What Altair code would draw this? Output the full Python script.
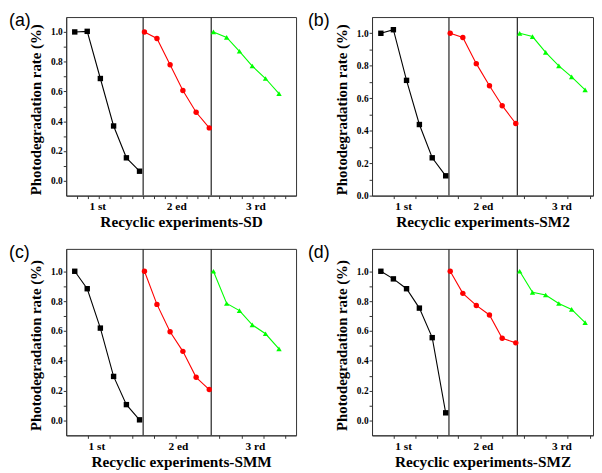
import altair as alt
import pandas as pd

SERIF = "Liberation Serif"
SANS = "Liberation Sans"

SEGMENTS = ["1st", "2ed", "3rd"]
SEG_COLORS = ["#000000", "#ff0000", "#00ff00"]
SEG_SHAPES = ["square", "circle", "triangle-up"]
LABELS = ["1 st", "2 ed", "3 rd"]

# x positions of the points (axis units, frame = 0..21)
X_LEFT = [[0.78, 1.92, 3.12, 4.33, 5.50, 6.70],
          [7.15, 8.29, 9.49, 10.66, 11.87, 13.07],
          [13.45, 14.66, 15.83, 17.00, 18.21, 19.44]]
X_RIGHT = [[0.84, 2.03, 3.28, 4.50, 5.72, 7.00],
           [7.43, 8.63, 9.91, 11.16, 12.37, 13.66],
           [14.03, 15.25, 16.50, 17.75, 18.97, 20.25]]
SEP_LEFT = [7.03, 13.25]
SEP_RIGHT = [7.31, 13.81]
LABEL_X_A = [2.88, 10.10, 17.33]
LABEL_X_C = [2.80, 10.25, 17.29]
LABEL_X_RIGHT = [3.00, 10.59, 18.05]
TICKS_A = list(range(1, 21))
TICKS_C = list(range(2, 21, 2))
TICKS_RIGHT = [2.03, 4.10, 6.16, 8.20, 10.28, 12.35, 14.44, 16.53, 18.60, 20.70]
Y_TICKS = [round(i * 0.1, 1) for i in range(0, 11)]

# photodegradation rate per cycle
SD = [[1.0, 1.004, 0.687, 0.368, 0.154, 0.064],
      [1.0, 0.956, 0.780, 0.606, 0.460, 0.355],
      [1.0, 0.963, 0.870, 0.771, 0.687, 0.586]]
SM2 = [[1.0, 1.022, 0.710, 0.438, 0.233, 0.122],
       [1.0, 0.974, 0.813, 0.677, 0.554, 0.444],
       [1.0, 0.980, 0.882, 0.799, 0.732, 0.651]]
SMM = [[1.0, 0.883, 0.619, 0.295, 0.106, 0.004],
       [1.0, 0.778, 0.595, 0.463, 0.289, 0.207],
       [1.0, 0.784, 0.736, 0.641, 0.581, 0.480]]
SMZ = [[1.0, 0.949, 0.883, 0.753, 0.555, 0.051],
       [1.0, 0.852, 0.771, 0.707, 0.551, 0.520],
       [1.0, 0.859, 0.841, 0.784, 0.744, 0.656]]


def panel(letter, name, ys, xs, seps, ticks, label_x, ydomain, w, h, lab_dx, lab_dy):
    rows = []
    for s, (xr, yr) in enumerate(zip(xs, ys)):
        for x, y in zip(xr, yr):
            rows.append({"x": x, "y": y, "seg": SEGMENTS[s]})
    df = pd.DataFrame(rows)

    xaxis = alt.Axis(values=ticks, labels=False, tickSize=3, grid=False,
                     domainColor="#333", tickColor="#333",
                     title=f"Recyclic experiments-{name}", titleFont=SERIF,
                     titleFontSize=15.5, titleFontWeight="bold", titleColor="black",
                     titleBaseline="alphabetic", titleY=31.5, titleX=w / 2)
    xenc = alt.X("x:Q", scale=alt.Scale(domain=[0, 21], nice=False, zero=False), axis=xaxis)
    yaxis = alt.Axis(values=Y_TICKS, tickSize=3, grid=False, domainColor="#333", tickColor="#333",
                     labelExpr="abs(round(datum.value*10)) % 2 == 0 ? format(datum.value, '.1f') : ''",
                     labelFont=SERIF, labelFontWeight="bold", labelFontSize=9.5, labelColor="black",
                     labelPadding=1,
                     title="Photodegradation rate (%)", titleFont=SERIF, titleFontSize=15,
                     titleFontWeight="bold", titleColor="black", titleBaseline="alphabetic",
                     titleX=-26, titleY=h / 2 + 3)
    yenc = alt.Y("y:Q", scale=alt.Scale(domain=ydomain, nice=False, zero=False), axis=yaxis)
    color = alt.Color("seg:N", scale=alt.Scale(domain=SEGMENTS, range=SEG_COLORS), legend=None)
    shape = alt.Shape("seg:N", scale=alt.Scale(domain=SEGMENTS, range=SEG_SHAPES), legend=None)

    base = alt.Chart(df)
    rules = alt.Chart(pd.DataFrame({"x": seps})).mark_rule(color="#333", strokeWidth=1.3).encode(x=xenc)
    lines = base.mark_line(strokeWidth=1.1).encode(x=xenc, y=yenc, color=color)
    pts = base.mark_point(filled=True, size=30, opacity=1).encode(x=xenc, y=yenc, color=color, shape=shape)
    ticklab = alt.Chart(pd.DataFrame({"x": label_x, "t": LABELS})).mark_text(
        font=SERIF, fontWeight="bold", fontSize=11.5, baseline="alphabetic", align="center", color="black"
    ).encode(x=xenc, y=alt.value(h + 15), text="t:N")
    plab = alt.Chart(pd.DataFrame({"t": [f"({letter})"]})).mark_text(
        font=SANS, fontSize=18, align="left", baseline="top", color="black"
    ).encode(x=alt.value(lab_dx), y=alt.value(lab_dy), text="t:N")
    return alt.layer(rules, lines, pts, ticklab, plab).properties(width=w, height=h)


pa = panel("a", "SD", SD, X_LEFT, SEP_LEFT, TICKS_A, LABEL_X_A, [-0.1, 1.1], 233, 181, -58, -5)
pb = panel("b", "SM2", SM2, X_RIGHT, SEP_RIGHT, TICKS_RIGHT, LABEL_X_RIGHT, [0.0, 1.1], 224, 181, -65, -5)
pc = panel("c", "SMM", SMM, X_LEFT, SEP_LEFT, TICKS_C, LABEL_X_C, [-0.1, 1.15], 233, 189, -58, -4.5)
pd_ = panel("d", "SMZ", SMZ, X_RIGHT, SEP_RIGHT, TICKS_RIGHT, LABEL_X_RIGHT, [-0.1, 1.15], 224, 189, -65, -4.5)

chart = alt.concat(pa, pb, pc, pd_, columns=2, spacing={"row": 54, "column": 77},
                   bounds="flush", align="each").properties(padding=0).configure_view(
    stroke="#333", strokeWidth=1)

chart.save("out.html", embed_options={"renderer": "svg", "actions": False})
